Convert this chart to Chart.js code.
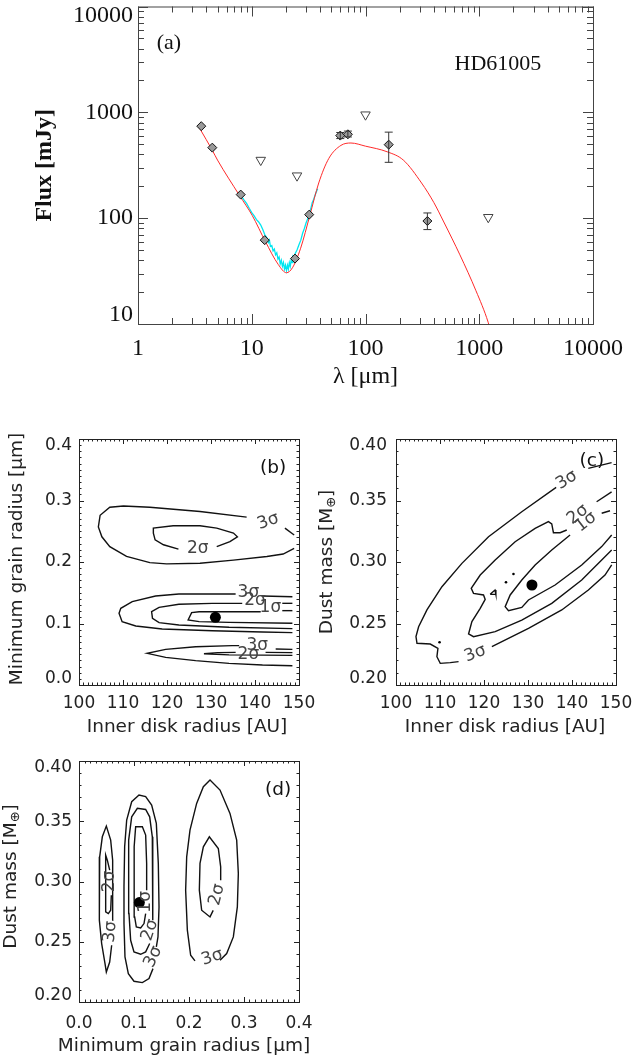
<!DOCTYPE html>
<html>
<head>
<meta charset="utf-8">
<title>HD61005 - SED and fit contours</title>
<script src="https://cdn.jsdelivr.net/npm/chart.js@4.4.1/dist/chart.umd.min.js"></script>
<style>
  body { margin: 0; background: #fff; }
  #page { position: relative; width: 632px; height: 1057px; overflow: hidden; }
  canvas { position: absolute; }
</style>
</head>
<body>
<div id="page">
  <canvas id="sed" width="632" height="395" style="left:0;top:0;width:632px;height:395px"></canvas>
  <canvas id="rin-amin" width="316" height="330" style="left:0;top:420px;width:316px;height:330px"></canvas>
  <canvas id="rin-mass" width="316" height="330" style="left:316px;top:420px;width:316px;height:330px"></canvas>
  <canvas id="amin-mass" width="316" height="317" style="left:0;top:740px;width:316px;height:317px"></canvas>
</div>
<script>
// ========== (a) SED DATA ==========
const sedXTicks = [1, 10, 100, 1000, 10000];
const sedXTickLabels = ['1', '10', '100', '1000', '10000'];
const sedYTicks = [10, 100, 1000, 10000];
const sedYTickLabels = ['10', '100', '1000', '10000'];

// photometry (diamonds) + error bars
const photWave = [3.6, 4.5, 8.0, 13, 24, 32, 60, 70, 160, 350];
const photFlux = [740, 464, 167, 62, 41.5, 108, 603, 620, 495, 94];
const photErrLow = [null, null, null, null, null, null, 565, 585, 337, 78];
const photErrHigh = [null, null, null, null, null, null, 645, 665, 650, 112];

// upper limits (triangles)
const limitWave = [12, 25, 100, 1200];
const limitFlux = [354, 252, 950, 102];

// model SED (red)
const modelWave = [3.5, 4.5, 5.0, 7.8, 10.1, 13.2, 17.1, 20.2, 22.8, 26.9, 32.4, 38.8, 47.6, 60.8, 74.5, 100,
  155, 215, 311, 398, 488, 676, 936, 1197, 1300];
const modelFlux = [700, 438, 354, 164, 106, 60, 36.5, 30.5, 34, 52, 106, 215, 367, 487, 513, 479,
  424, 354, 215, 141, 92, 45, 20.6, 10.4, 7.5];

// IRS spectrum (cyan)
const irsWave = [7.6, 8.0, 8.5, 9.0, 9.5, 10.0, 10.5, 11.0, 11.5, 12.0, 12.5, 13.0, 13.5, 14.0, 14.3, 14.6,
  15.0, 15.4, 15.8, 16.2, 16.6, 17.0, 17.4, 17.8, 18.2, 18.6, 19.0, 19.4, 19.8, 20.2, 20.6, 21.0, 21.4,
  21.8, 22.2, 22.6, 23.0, 23.5, 24.0, 25.0, 26.0, 27.0, 28.0, 29.0, 30.0, 31.0, 32.0, 33.0, 34.0, 35.0,
  36.0, 37.0, 38.0];
const irsFlux = [175, 165, 150, 138, 124, 113, 105, 97, 92, 86, 78, 70, 66, 59, 62, 54,
  55, 49, 51, 45, 47, 41, 43, 37, 40, 35, 38, 33, 36, 32, 36, 33, 38,
  35, 40, 38, 43, 41, 46, 50, 56, 62, 72, 80, 90, 98, 108, 122, 140, 150,
  165, 178, 190];

// ========== (b) INNER RADIUS vs MINIMUM GRAIN RADIUS ==========
const rinTicks = [100, 110, 120, 130, 140, 150];
const rinTickLabels = ['100', '110', '120', '130', '140', '150'];
const aminTicksB = [0, 0.1, 0.2, 0.3, 0.4];
const aminTickLabelsB = ['0.0', '0.1', '0.2', '0.3', '0.4'];

const bSigma3UpperDash = [[146.8, 0.255], [148.9, 0.244]];
const bSigma3Upper = [[138.1, 0.273], [127.5, 0.282], [116.1, 0.289], [110.1, 0.291], [107.0, 0.289], [104.8, 0.276],
  [104.4, 0.257], [105.2, 0.241], [107.0, 0.225], [110.8, 0.209], [116.1, 0.199], [119.9, 0.197], [127.5, 0.198],
  [135.1, 0.203], [142.7, 0.209], [146.4, 0.213], [148.9, 0.222]];
const bSigma2Upper = [[131.3, 0.225], [134.3, 0.233], [136.0, 0.241], [135.1, 0.247], [131.3, 0.255], [127.5, 0.259],
  [121.4, 0.259], [116.9, 0.255], [116.9, 0.247], [117.3, 0.236], [119.2, 0.228], [122.6, 0.221]];
const bSigma3MidDash = [[141.7, 0.1447], [148.5, 0.1436]];
const bSigma3Mid = [[135.6, 0.148], [122.7, 0.148], [117.4, 0.1447], [112.1, 0.1355], [109.5, 0.1247], [109.1, 0.1165],
  [109.8, 0.103], [112.9, 0.0959], [118.9, 0.0911], [130.3, 0.0883], [141.7, 0.0862], [148.5, 0.0851]];
const bSigma2MidDash = [[146.2, 0.1328], [148.5, 0.1328]];
const bSigma2Mid = [[137.1, 0.1328], [130.3, 0.1328], [122.7, 0.1312], [118.2, 0.1263], [116.5, 0.1192], [116.7, 0.1084],
  [118.2, 0.1014], [122.7, 0.0976], [134.1, 0.0938], [148.5, 0.0916]];
const bSigma1MidDash = [[146.2, 0.1209], [148.5, 0.1209]];
const bSigma1Mid = [[141.3, 0.1192], [136.4, 0.1192], [127.3, 0.1192], [125.6, 0.1176], [124.8, 0.1057], [127.3, 0.1030],
  [134.1, 0.1019], [148.5, 0.1003]];
const bSigma3LowDash = [[144.7, 0.0585], [148.5, 0.0580]];
const bSigma3Low = [[136.4, 0.0640], [134.8, 0.0640], [126.5, 0.0623], [119.7, 0.0580], [115.5, 0.0515], [119.7, 0.0450],
  [126.5, 0.0396], [134.1, 0.0352], [141.7, 0.0325], [148.5, 0.0314]];
const bSigma2LowDash = [[142.4, 0.0531], [148.5, 0.0526]];
const bSigma2Low = [[135.6, 0.0531], [131.5, 0.0526], [128.4, 0.0509], [134.1, 0.0490], [141.7, 0.0485], [148.5, 0.0482]];
const bBest = [[131.0, 0.110]];

// ========== (c) INNER RADIUS vs DUST MASS ==========
const massTicks = [0.20, 0.25, 0.30, 0.35, 0.40];
const massTickLabels = ['0.20', '0.25', '0.30', '0.35', '0.40'];

const cSigma3Dash = [[143.7, 0.3761], [149.0, 0.3808]];
const cSigma3 = [[136.4, 0.3607], [128.59, 0.3409], [121.03, 0.3206], [114.98, 0.2989], [110.44, 0.2799], [107.03, 0.2610],
  [105.14, 0.2474], [104.54, 0.2393], [104.77, 0.2339], [107.79, 0.2333], [109.53, 0.2298], [109.30, 0.2230],
  [110.06, 0.2176], [112.33, 0.2182], [114.22, 0.2190]];
const cSigma3Lower = [[121.79, 0.2312], [130.11, 0.2461], [137.67, 0.2610], [143.72, 0.2772], [147.50, 0.2894], [149.02, 0.2976]];
const cSigma2Dash = [[145.6, 0.349], [149.0, 0.357]];
const cSigma2 = [[138.81, 0.3260], [137.29, 0.3238], [135.78, 0.3238], [135.40, 0.3309], [134.64, 0.3328], [131.62, 0.3274],
  [127.08, 0.3165], [122.54, 0.3016], [119.14, 0.2894], [117.10, 0.2786], [117.62, 0.2745], [119.89, 0.2732],
  [120.27, 0.2696], [119.14, 0.2623], [117.25, 0.2515], [116.49, 0.2415], [117.62, 0.2393], [122.54, 0.2434],
  [128.59, 0.2528], [135.40, 0.2664], [142.21, 0.2854], [146.75, 0.3016], [149.02, 0.3098]];
const cSigma2Island = [[121.4, 0.2737], [122.5, 0.2772], [122.7, 0.2737], [121.4, 0.2737]];
const cSigma1Dash = [[146.75, 0.3396], [148.64, 0.3417]];
const cSigma1 = [[139.56, 0.3220], [135.40, 0.3098], [131.62, 0.2976], [128.59, 0.2854], [125.95, 0.2732], [124.81, 0.2637],
  [125.57, 0.2604], [128.59, 0.2631], [130.11, 0.2691], [136.16, 0.2813], [142.21, 0.2976], [146.75, 0.3125], [149.02, 0.3220]];
const cSpecks = [[125.0, 0.2835], [126.7, 0.2902], [109.9, 0.2347]];
const cBest = [[130.9, 0.2813]];

// ========== (d) MINIMUM GRAIN RADIUS vs DUST MASS ==========
const aminTicksD = [0, 0.1, 0.2, 0.3, 0.4];
const aminTickLabelsD = ['0.0', '0.1', '0.2', '0.3', '0.4'];

const dLeft3 = [[0.0606, 0.2679], [0.0618, 0.2928], [0.0606, 0.3177], [0.0576, 0.3343], [0.0497, 0.3460], [0.0424, 0.3371],
  [0.0376, 0.3205], [0.0364, 0.2956], [0.0376, 0.2679], [0.0412, 0.2485], [0.0473, 0.2319], [0.0497, 0.2249],
  [0.0558, 0.2332], [0.0594, 0.2471]];
const dLeft2 = [[0.0558, 0.3094], [0.0515, 0.3177], [0.0485, 0.3219], [0.0485, 0.2748], [0.0533, 0.2734], [0.0576, 0.2762],
  [0.0588, 0.2886]];
const dMid1 = [[0.1212, 0.2734], [0.1182, 0.2651], [0.1121, 0.2615], [0.1042, 0.2623], [0.1012, 0.2706], [0.1000, 0.3011],
  [0.1006, 0.3288], [0.1030, 0.3454], [0.1152, 0.3454], [0.1212, 0.3385], [0.1230, 0.3150], [0.1230, 0.2928]];
const dMid2 = [[0.1285, 0.2485], [0.1212, 0.2416], [0.1121, 0.2396], [0.1000, 0.2416], [0.0939, 0.2512], [0.0909, 0.2734],
  [0.0897, 0.3011], [0.0909, 0.3343], [0.0958, 0.3537], [0.1061, 0.3607], [0.1212, 0.3598], [0.1285, 0.3537],
  [0.1333, 0.3371], [0.1345, 0.3011], [0.1345, 0.2734], [0.1333, 0.2679]];
const dMid3 = [[0.1345, 0.2277], [0.1273, 0.2194], [0.1152, 0.2161], [0.1000, 0.2172], [0.0897, 0.2235], [0.0836, 0.2374],
  [0.0818, 0.2651], [0.0818, 0.2956], [0.0830, 0.3288], [0.0867, 0.3510], [0.0958, 0.3662], [0.1091, 0.3717],
  [0.1212, 0.3704], [0.1321, 0.3634], [0.1406, 0.3482], [0.1442, 0.3150], [0.1455, 0.2789], [0.1436, 0.2540], [0.1406, 0.2457]];
const dRight3 = [[0.2109, 0.2341], [0.2030, 0.2388], [0.1970, 0.2596], [0.1939, 0.2928], [0.1958, 0.3205], [0.2018, 0.3427],
  [0.2139, 0.3648], [0.2261, 0.3787], [0.2382, 0.3842], [0.2564, 0.3759], [0.2745, 0.3565], [0.2867, 0.3343],
  [0.2897, 0.3066], [0.2879, 0.2789], [0.2806, 0.2540], [0.2685, 0.2402], [0.2564, 0.2346]];
const dRight2 = [[0.2440, 0.2760], [0.2382, 0.2706], [0.2230, 0.2762], [0.2188, 0.2928], [0.2200, 0.3150], [0.2261, 0.3288],
  [0.2370, 0.3371], [0.2533, 0.3274], [0.2576, 0.3122], [0.2576, 0.3011]];
const dBest = [[0.1097, 0.2825]];

// ========== HELPERS ==========
const zip = (xs, ys) => xs.map((x, i) => ({x: x, y: ys[i]}));
const pts = arr => arr.map(p => ({x: p[0], y: p[1]}));

function steps(from, to, step) {
    const out = [];
    for (let v = from; v <= to + step / 2; v += step) out.push(+v.toFixed(4));
    return out;
}

function logMinors(decades) {
    const out = [];
    decades.forEach(d => { for (let m = 2; m <= 9; m++) out.push(m * d); });
    return out;
}

function contour(arr) {
    return {data: pts(arr), showLine: true, borderColor: '#111', borderWidth: 1.4, pointRadius: 0, fill: false};
}

function dot(arr, r) {
    return {data: pts(arr), showLine: false, pointRadius: r, backgroundColor: '#000', borderWidth: 0};
}

// frame box + inward ticks on all four sides
const framePlugin = {
    id: 'frame',
    afterDatasetsDraw(chart, args, o) {
        const {ctx, chartArea: a, scales: {x, y}} = chart;
        ctx.save();
        ctx.strokeStyle = o.color;
        ctx.lineWidth = 1;
        ctx.beginPath();
        const vTicks = (vals, len) => vals.forEach(v => {
            const px = Math.round(x.getPixelForValue(v)) + 0.5;
            ctx.moveTo(px, a.bottom); ctx.lineTo(px, a.bottom - len);
            ctx.moveTo(px, a.top); ctx.lineTo(px, a.top + len);
        });
        const hTicks = (vals, len) => vals.forEach(v => {
            const py = Math.round(y.getPixelForValue(v)) + 0.5;
            ctx.moveTo(a.left, py); ctx.lineTo(a.left + len, py);
            ctx.moveTo(a.right, py); ctx.lineTo(a.right - len, py);
        });
        vTicks(o.xMinor, o.minorLen); vTicks(o.xMajor, o.majorLen);
        hTicks(o.yMinor, o.minorLen); hTicks(o.yMajor, o.majorLen);
        ctx.stroke();
        ctx.strokeRect(a.left + 0.5, a.top + 0.5, a.right - a.left, a.bottom - a.top);
        ctx.restore();
    }
};

// y tick labels, kept inside the frame at both ends (IDL style)
const yLabelPlugin = {
    id: 'yLabels',
    afterDraw(chart, args, o) {
        const {ctx, chartArea: a, scales: {y}} = chart;
        ctx.save();
        ctx.font = o.font;
        ctx.fillStyle = o.color;
        ctx.textAlign = 'right';
        ctx.textBaseline = 'middle';
        o.values.forEach((v, i) => {
            let py = y.getPixelForValue(v);
            py = Math.min(Math.max(py, a.top + o.half), a.bottom - o.half);
            ctx.fillText(o.labels[i], a.left - o.padding, py);
        });
        ctx.restore();
    }
};

// axis titles without width squeezing, with optional subscript parts
function drawParts(ctx, parts, cx, cy, rot, font, subFont) {
    ctx.save();
    ctx.translate(cx, cy);
    ctx.rotate(rot);
    const widths = parts.map(p => { ctx.font = p.sub ? subFont : font; return ctx.measureText(p.t).width; });
    let x = -widths.reduce((s, w) => s + w, 0) / 2;
    ctx.textAlign = 'left';
    ctx.textBaseline = 'middle';
    parts.forEach((p, i) => {
        ctx.font = p.sub ? subFont : font;
        ctx.fillText(p.t, x, p.sub ? 5 : 0);
        x += widths[i];
    });
    ctx.restore();
}

const axisTitlePlugin = {
    id: 'axisTitles',
    afterDraw(chart, args, o) {
        const {ctx, chartArea: a} = chart;
        ctx.save();
        ctx.fillStyle = o.color;
        drawParts(ctx, o.x.parts, (a.left + a.right) / 2 + o.x.dx, a.bottom + o.x.dy, 0, o.font, o.subFont);
        drawParts(ctx, o.y.parts, a.left - o.y.dx, (a.top + a.bottom) / 2 + o.y.dy, -Math.PI / 2, o.font, o.subFont);
        ctx.restore();
    }
};

// free text placed in data coordinates (contour labels, panel names)
const notesPlugin = {
    id: 'notes',
    afterDatasetsDraw(chart, args, o) {
        const {ctx, scales: {x, y}} = chart;
        o.items.forEach(n => {
            ctx.save();
            ctx.translate(x.getPixelForValue(n.x), y.getPixelForValue(n.y));
            ctx.rotate((n.rot || 0) * Math.PI / 180);
            ctx.font = n.font || o.font;
            ctx.fillStyle = n.color || o.color;
            ctx.textAlign = 'center';
            ctx.textBaseline = 'middle';
            ctx.fillText(n.t, 0, 0);
            ctx.restore();
        });
    }
};

const errorBarPlugin = {
    id: 'errorBars',
    afterDatasetsDraw(chart, args, o) {
        const {ctx, scales: {x, y}} = chart;
        ctx.save();
        ctx.strokeStyle = o.color;
        ctx.lineWidth = 1;
        ctx.beginPath();
        o.wave.forEach((w, i) => {
            if (o.low[i] == null) return;
            const px = x.getPixelForValue(w);
            const lo = y.getPixelForValue(o.low[i]);
            const hi = y.getPixelForValue(o.high[i]);
            ctx.moveTo(px, lo); ctx.lineTo(px, hi);
            ctx.moveTo(px - o.cap, lo); ctx.lineTo(px + o.cap, lo);
            ctx.moveTo(px - o.cap, hi); ctx.lineTo(px + o.cap, hi);
        });
        ctx.stroke();
        ctx.restore();
    }
};

Chart.defaults.font.family = 'DejaVu Sans';
Chart.defaults.color = '#222';
Chart.defaults.animation = false;
Chart.defaults.events = [];
Chart.defaults.plugins.legend.display = false;
Chart.defaults.plugins.tooltip.enabled = false;

const SERIF = 'Liberation Serif';

// ========== (a) SED ==========
function createSedChart() {
    new Chart(document.getElementById('sed'), {
        type: 'scatter',
        data: {
            datasets: [
                {
                    data: zip(photWave, photFlux),
                    pointStyle: 'rectRot',
                    pointRadius: 4.5,
                    backgroundColor: '#9a9a9a',
                    borderColor: '#111',
                    borderWidth: 1
                },
                {
                    data: zip(limitWave, limitFlux),
                    pointStyle: 'triangle',
                    rotation: 180,
                    pointRadius: 5.5,
                    backgroundColor: '#fff',
                    borderColor: '#444',
                    borderWidth: 1
                },
                {
                    data: zip(modelWave, modelFlux),
                    showLine: true,
                    borderColor: '#ff2a2a',
                    borderWidth: 1,
                    pointRadius: 0,
                    cubicInterpolationMode: 'monotone'
                },
                {
                    data: zip(irsWave, irsFlux),
                    showLine: true,
                    borderColor: '#00e6f0',
                    borderWidth: 1.3,
                    pointRadius: 0
                }
            ]
        },
        options: {
            responsive: false,
            layout: {padding: {left: 0, top: 1, right: 39, bottom: 0}},
            scales: {
                x: {
                    type: 'logarithmic',
                    min: 1,
                    max: 10000,
                    afterBuildTicks: s => { s.ticks = sedXTicks.map(value => ({value})); },
                    ticks: {
                        callback: (v, i) => sedXTickLabels[i],
                        font: {family: SERIF, size: 24},
                        color: '#111',
                        padding: 10,
                        maxRotation: 0,
                        autoSkip: false
                    },
                    grid: {display: false, drawTicks: false},
                    border: {display: false},
                    title: {
                        display: true,
                        text: 'λ [μm]',
                        font: {family: SERIF, size: 24},
                        color: '#111',
                        padding: {top: 0, bottom: 4}
                    },
                    afterFit: s => { s.height = 71; s.paddingLeft = 0; s.paddingRight = 0; }
                },
                y: {
                    type: 'logarithmic',
                    min: 10,
                    max: 10000,
                    ticks: {display: false},
                    grid: {display: false, drawTicks: false},
                    border: {display: false},
                    title: {
                        display: true,
                        text: 'Flux [mJy]',
                        font: {family: SERIF, size: 24, weight: 'bold'},
                        color: '#111',
                        padding: {top: 30, bottom: 0}
                    },
                    afterFit: s => { s.width = 138; s.paddingTop = 0; s.paddingBottom = 0; }
                }
            },
            plugins: {
                frame: {
                    color: '#444',
                    xMajor: sedXTicks, xMinor: logMinors([1, 10, 100, 1000]),
                    yMajor: sedYTicks, yMinor: logMinors([10, 100, 1000]),
                    majorLen: 10, minorLen: 6
                },
                yLabels: {
                    values: sedYTicks, labels: sedYTickLabels,
                    font: '24px "Liberation Serif"', color: '#111', padding: 5, half: 9
                },
                errorBars: {wave: photWave, low: photErrLow, high: photErrHigh, color: '#333', cap: 4},
                notes: {
                    font: '22px "Liberation Serif"', color: '#111',
                    items: [
                        {t: '(a)', x: 1.87, y: 4530},
                        {t: 'HD61005', x: 1460, y: 2830}
                    ]
                }
            }
        },
        plugins: [errorBarPlugin, framePlugin, yLabelPlugin, notesPlugin]
    });
}

// ========== CONTOUR PANELS ==========
function createContourChart(id, c) {
    new Chart(document.getElementById(id), {
        type: 'scatter',
        data: {datasets: c.datasets},
        options: {
            responsive: false,
            layout: {padding: c.padding},
            scales: {
                x: {
                    type: 'linear',
                    min: c.xTicks[0],
                    max: c.xTicks[c.xTicks.length - 1],
                    afterBuildTicks: s => { s.ticks = c.xTicks.map(value => ({value})); },
                    ticks: {
                        callback: (v, i) => c.xTickLabels[i],
                        font: {size: 17},
                        padding: c.xLabelPad,
                        maxRotation: 0,
                        autoSkip: false
                    },
                    grid: {display: false, drawTicks: false},
                    border: {display: false},
                    afterFit: s => { s.height = c.xHeight; s.paddingLeft = 0; s.paddingRight = 0; }
                },
                y: {
                    type: 'linear',
                    min: c.yTicks[0],
                    max: c.yTicks[c.yTicks.length - 1],
                    ticks: {display: false},
                    grid: {display: false, drawTicks: false},
                    border: {display: false},
                    afterFit: s => { s.width = c.yWidth; s.paddingTop = 0; s.paddingBottom = 0; }
                }
            },
            plugins: {
                frame: {
                    color: '#222',
                    xMajor: c.xTicks, xMinor: c.xMinor,
                    yMajor: c.yTicks, yMinor: c.yMinor,
                    majorLen: 5, minorLen: 2.5
                },
                yLabels: {
                    values: c.yTicks, labels: c.yTickLabels,
                    font: '17px "DejaVu Sans"', color: '#222', padding: c.yLabelPad, half: 6.5
                },
                axisTitles: {
                    font: '18.5px "DejaVu Sans"', subFont: '13px "DejaVu Sans"', color: '#222',
                    x: c.xTitle, y: c.yTitle
                },
                notes: {font: '17px "DejaVu Sans"', color: '#444', items: c.notes}
            }
        },
        plugins: [framePlugin, yLabelPlugin, axisTitlePlugin, notesPlugin]
    });
}

const PANEL_FONT = '18.5px "DejaVu Sans"';
const RIN_TITLE = [{t: 'Inner disk radius [AU]'}];
const AMIN_TITLE = [{t: 'Minimum grain radius [μm]'}];
const MASS_TITLE = [{t: 'Dust mass [M'}, {t: '\u2295', sub: true}, {t: ']'}];

function createRinAminChart() {
    createContourChart('rin-amin', {
        padding: {left: 0, top: 19, right: 17, bottom: 0},
        yWidth: 79, xHeight: 65, xLabelPad: 8, yLabelPad: 7,
        xTicks: rinTicks, xTickLabels: rinTickLabels, xMinor: steps(100, 150, 1),
        yTicks: aminTicksB, yTickLabels: aminTickLabelsB, yMinor: steps(0, 0.4, 0.01),
        xTitle: {parts: RIN_TITLE, dx: -2, dy: 42},
        yTitle: {parts: AMIN_TITLE, dx: 62, dy: -3},
        datasets: [
            dot(bBest, 5.5),
            contour(bSigma3UpperDash), contour(bSigma3Upper), contour(bSigma2Upper),
            contour(bSigma3MidDash), contour(bSigma3Mid), contour(bSigma2MidDash), contour(bSigma2Mid),
            contour(bSigma1MidDash), contour(bSigma1Mid),
            contour(bSigma3LowDash), contour(bSigma3Low), contour(bSigma2LowDash), contour(bSigma2Low)
        ],
        notes: [
            {t: '3σ', x: 143.0, y: 0.266, rot: -20},
            {t: '2σ', x: 127.0, y: 0.222},
            {t: '3σ', x: 138.5, y: 0.150},
            {t: '2σ', x: 140.0, y: 0.137},
            {t: '1σ', x: 143.5, y: 0.126},
            {t: '3σ', x: 140.5, y: 0.064},
            {t: '2σ', x: 138.5, y: 0.050},
            {t: '(b)', x: 144.1, y: 0.353, font: PANEL_FONT, color: '#111'}
        ]
    });
}

function createRinMassChart() {
    createContourChart('rin-mass', {
        padding: {left: 0, top: 19, right: 16, bottom: 0},
        yWidth: 80, xHeight: 65, xLabelPad: 8, yLabelPad: 9,
        xTicks: rinTicks, xTickLabels: rinTickLabels, xMinor: steps(100, 150, 1),
        yTicks: massTicks, yTickLabels: massTickLabels, yMinor: steps(0.2, 0.4, 0.01),
        xTitle: {parts: RIN_TITLE, dx: -1, dy: 42},
        yTitle: {parts: MASS_TITLE, dx: 69, dy: 0},
        datasets: [
            dot(cBest, 5.5), dot(cSpecks, 1.3),
            contour(cSigma3Dash), contour(cSigma3), contour(cSigma3Lower),
            contour(cSigma2Dash), contour(cSigma2), contour(cSigma2Island),
            contour(cSigma1Dash), contour(cSigma1)
        ],
        notes: [
            {t: '3σ', x: 138.8, y: 0.3667, rot: -32},
            {t: '2σ', x: 141.3, y: 0.3385, rot: -38},
            {t: '1σ', x: 143.2, y: 0.3325, rot: -38},
            {t: '3σ', x: 118.0, y: 0.2255, rot: -22},
            {t: '(c)', x: 144.5, y: 0.3816, font: PANEL_FONT, color: '#111'}
        ]
    });
}

function createAminMassChart() {
    createContourChart('amin-mass', {
        padding: {left: 0, top: 21, right: 17, bottom: 0},
        yWidth: 79, xHeight: 55, xLabelPad: 11, yLabelPad: 7,
        xTicks: aminTicksD, xTickLabels: aminTickLabelsD, xMinor: steps(0, 0.4, 0.01),
        yTicks: massTicks, yTickLabels: massTickLabels, yMinor: steps(0.2, 0.4, 0.01),
        xTitle: {parts: AMIN_TITLE, dx: -5, dy: 44},
        yTitle: {parts: MASS_TITLE, dx: 68, dy: -5},
        datasets: [
            dot(dBest, 5.5),
            contour(dLeft3), contour(dLeft2),
            contour(dMid1), contour(dMid2), contour(dMid3),
            contour(dRight3), contour(dRight2)
        ],
        notes: [
            {t: '2σ', x: 0.056, y: 0.300, rot: -90},
            {t: '3σ', x: 0.057, y: 0.2582, rot: -85},
            {t: '1σ', x: 0.1215, y: 0.2831, rot: -90},
            {t: '2σ', x: 0.129, y: 0.2596, rot: -72},
            {t: '3σ', x: 0.135, y: 0.2374, rot: -65},
            {t: '2σ', x: 0.2510, y: 0.2890, rot: -76},
            {t: '3σ', x: 0.2420, y: 0.2370, rot: -18},
            {t: '(d)', x: 0.362, y: 0.376, font: PANEL_FONT, color: '#111'}
        ]
    });
}

// ========== INIT ==========
createSedChart();
createRinAminChart();
createRinMassChart();
createAminMassChart();
</script>
</body>
</html>
